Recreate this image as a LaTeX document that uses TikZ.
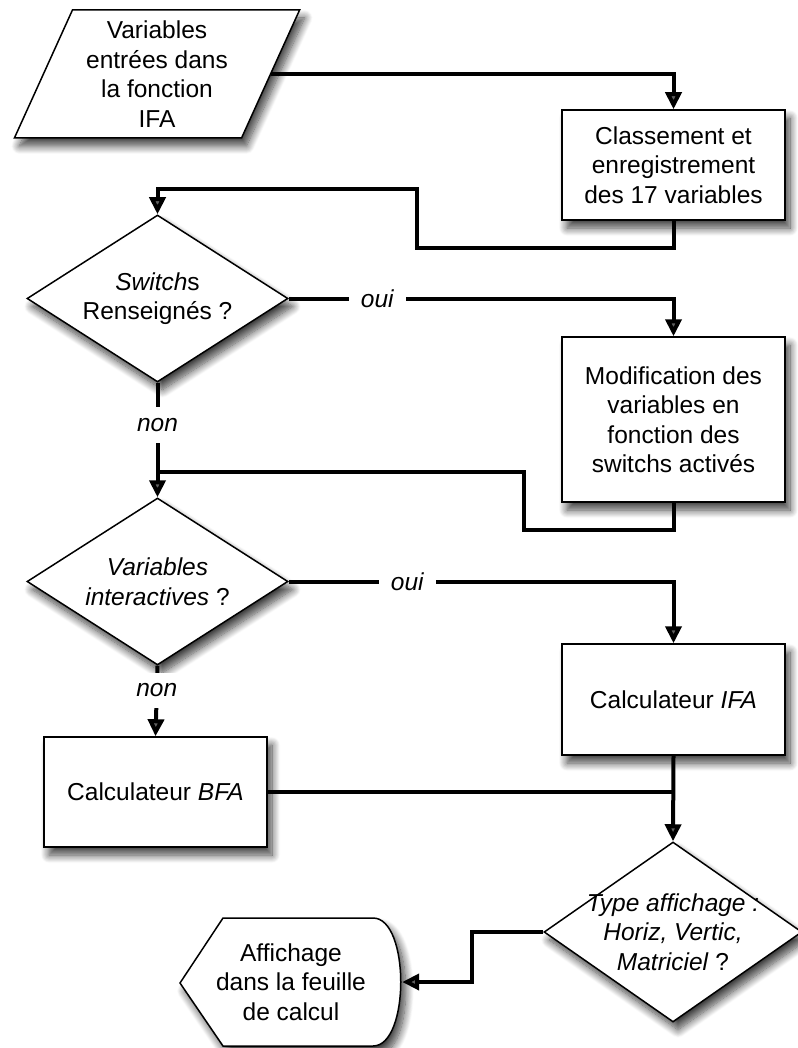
\documentclass[tikz,border=0pt]{standalone}
\usepackage{fontspec}
\setmainfont{Liberation Sans}
\usetikzlibrary{shapes.geometric, arrows.meta, shadows.blur}

\begin{document}
\begin{tikzpicture}[
    x=1pt, y=-1pt,
    every node/.style={font=\fontsize{24.5}{29.5}\selectfont, align=center},
    boxshadow/.style={blur shadow={shadow xshift=5pt, shadow yshift=-8pt, shadow blur radius=8pt, shadow blur steps=12, shadow opacity=75}},
    box/.style={draw, line width=1.5pt, fill=white, boxshadow, minimum width=223pt, inner sep=2pt},
    decision/.style={draw, diamond, line width=1.5pt, fill=white, boxshadow, shape aspect=1.56, minimum width=261pt, minimum height=167pt, inner sep=0pt},
    io/.style={draw, trapezium, trapezium left angle=65.6, trapezium right angle=114.4, trapezium stretches=true, line width=1.5pt, fill=white, boxshadow, minimum width=286pt, minimum height=128pt, inner sep=2pt},
    flow/.style={line width=4pt, -{Triangle[length=17pt, width=16pt]}},
    link/.style={line width=4pt},
    answer/.style={fill=white, font=\itshape\fontsize{24.5}{29.5}\selectfont, inner xsep=12pt, inner ysep=11pt}
]
\useasboundingbox (0,0) rectangle (797,1048);

% blocs
\node[io] (in) at (157,74) {Variables\\entrées dans\\la fonction\\IFA};
\node[box, minimum height=110pt] (cls) at (673.5,165) {Classement et\\enregistrement\\des 17 variables};
\node[decision] (sw) at (157.5,298.5) {\textit{Switch}s\\Renseignés ?};
\node[box, minimum height=165pt] (mod) at (673.5,419.5) {Modification des\\variables en\\fonction des\\switchs activés};
\node[decision] (vi) at (157.5,581.5) {\textit{Variables}\\\textit{interactives} ?};
\node[box, minimum height=111pt] (ifa) at (673.5,699.5) {Calculateur \textit{IFA}};
\node[box, minimum height=110pt] (bfa) at (155.5,792) {Calculateur \textit{BFA}};
\node[decision, shape aspect=1.43, minimum width=258pt, minimum height=180pt, inner sep=-14pt] (dt) at (673,932)
    {\textit{Type affichage :}\\\textit{Horiz, Vertic,}\\\textit{Matriciel} ?};

% sortie
\draw[line width=1.5pt, fill=white, boxshadow] (180,983) -- (223,918) -- (373,918)
    .. controls (410,918) and (410,1046) .. (373,1046) -- (223,1046) -- cycle;
\node[minimum width=222pt, minimum height=128pt] (disp) at (291,982) {Affichage\\dans la feuille\\de calcul};

\coordinate (j1) at (157.5,472);
\coordinate (j2) at (673.5,792);

% liaisons
\draw[flow] (in.east) -| (cls.north);
\draw[flow] (cls.south) -- ++(0,27) -| (417,189) -| (sw.north);
\draw[flow] (sw.east) -| (mod.north) node[answer, pos=0.115] {oui};
\draw[flow] (sw.south) -- (vi.north) node[answer, pos=0.37] {non};
\draw[link] (mod.south) -- ++(0,27) -| (524,472) -- (j1);
\draw[flow] (vi.east) -| (ifa.north) node[answer, pos=0.154] {oui};
\draw[flow] (vi.south) -- (bfa.north) node[answer, pos=0.35] {non};
\draw[link] (bfa.east) -- (j2);
\draw[flow] (ifa.south) -- (dt.north);
\draw[flow] (dt.west) -- (472,932) |- (disp.east);
\end{tikzpicture}
\end{document}
